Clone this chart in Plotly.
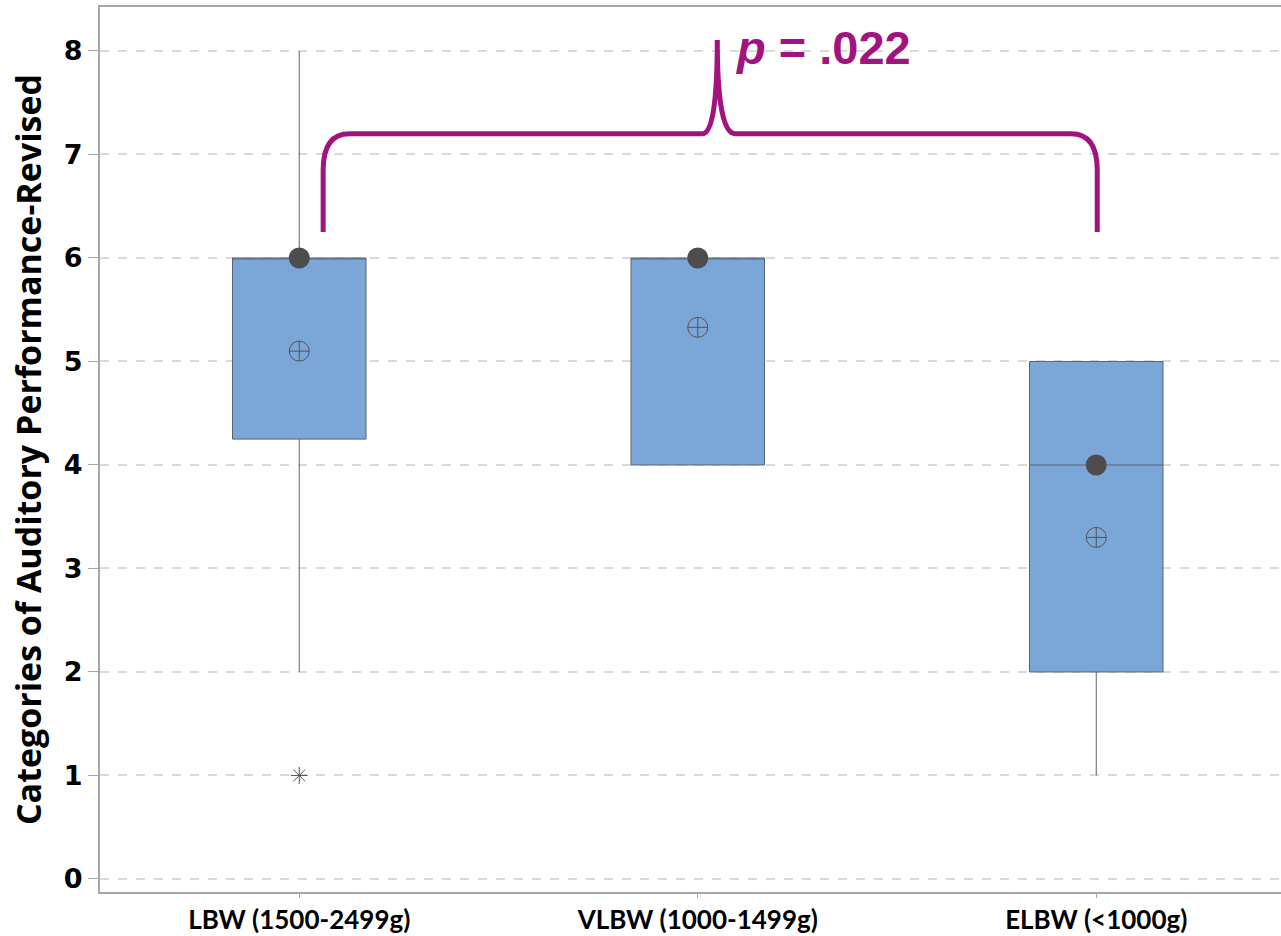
import plotly.graph_objects as go

# ---- data ----
categories = ["LBW (1500-2499g)", "VLBW (1000-1499g)", "ELBW (<1000g)"]
positions = [0, 1, 2]
q1 = [4.25, 4.0, 2.0]
median = [6.0, 6.0, 4.0]
q3 = [6.0, 6.0, 5.0]
lower_fence = [2.0, 4.0, 1.0]
upper_fence = [8.0, 6.0, 5.0]
means = [5.1, 5.33, 3.3]
outlier_x = [0]
outlier_y = [1.0]
y_ticks = [0, 1, 2, 3, 4, 5, 6, 7, 8]
p_label = "<i>p</i> = .022"

# bracket (data coordinates)
br_left_x, br_right_x = 0.06, 2.0025
br_bottom_y, br_top_y = 6.25, 7.2
br_peak_x, br_peak_y = 1.049, 8.106

MAGENTA = "#a2137f"
GRAY = "#555555"

fig = go.Figure()

fig.add_trace(go.Box(
    x=positions, q1=q1, median=median, q3=q3,
    lowerfence=lower_fence, upperfence=upper_fence,
    width=0.335, whiskerwidth=0,
    fillcolor="#7ba6d8", line=dict(color="#5b6470", width=1),
    boxpoints=False, hoverinfo="skip", showlegend=False,
))

fig.add_trace(go.Scatter(
    x=positions, y=median, mode="markers",
    marker=dict(symbol="circle", size=21, color="#4d4d4d"),
    showlegend=False, hoverinfo="skip",
))
fig.add_trace(go.Scatter(
    x=positions, y=means, mode="markers",
    marker=dict(symbol="circle-cross-open", size=20, color=GRAY, line=dict(width=1, color=GRAY)),
    showlegend=False, hoverinfo="skip",
))
fig.add_trace(go.Scatter(
    x=outlier_x, y=outlier_y, mode="markers",
    marker=dict(symbol="asterisk-open", size=14, color=GRAY, line=dict(width=1, color=GRAY)),
    showlegend=False, hoverinfo="skip",
))

dx = 0.066
cy = 0.35
path = (
    f"M {br_left_x},{br_bottom_y} L {br_left_x},{br_top_y - cy} "
    f"Q {br_left_x},{br_top_y} {br_left_x + dx},{br_top_y} "
    f"L {br_peak_x - 0.038},{br_top_y} "
    f"Q {br_peak_x},{br_top_y} {br_peak_x},{br_peak_y} "
    f"Q {br_peak_x},{br_top_y} {br_peak_x + 0.045},{br_top_y} "
    f"L {br_right_x - dx},{br_top_y} "
    f"Q {br_right_x},{br_top_y} {br_right_x},{br_top_y - cy} "
    f"L {br_right_x},{br_bottom_y}"
)
fig.add_shape(type="path", path=path, xref="x", yref="y",
              line=dict(color=MAGENTA, width=5))

fig.add_annotation(
    x=br_peak_x + 0.04, y=8.03, xref="x", yref="y",
    text=f"<b>{p_label}</b>", showarrow=False,
    xanchor="left", yanchor="middle",
    font=dict(family="Liberation Sans, Arial, sans-serif", size=47, color=MAGENTA),
)

fig.update_layout(
    width=1281, height=936,
    margin=dict(l=100, r=0, t=7, b=44),
    plot_bgcolor="white", paper_bgcolor="white",
    showlegend=False,
)
fig.update_xaxes(
    range=[-0.5, 2.4636], automargin=False,
    tickvals=positions, ticktext=[f"<b>{c}</b>" for c in categories],
    tickfont=dict(family="Lato, sans-serif", size=26, color="black"),
    showline=True, linecolor="#a6a6a6", linewidth=2, mirror=True,
    ticks="outside", ticklen=4, tickcolor="#a6a6a6", tickwidth=1,
    showgrid=False, zeroline=False,
)
fig.update_yaxes(
    range=[-0.126, 8.425], automargin=False,
    tickvals=y_ticks, ticktext=[f"<b>{t}</b>" for t in y_ticks],
    tickfont=dict(family="DejaVu Sans, sans-serif", size=27, color="black"),
    title=dict(text="<b>Categories of Auditory Performance-Revised</b>",
               font=dict(family="Open Sans, sans-serif", size=34, color="black"),
               standoff=12),
    showline=True, linecolor="#a6a6a6", linewidth=2,
    ticks="outside", ticklen=10, tickcolor="#a6a6a6", tickwidth=1,
    showgrid=True, gridcolor="#d9d9d9", gridwidth=2, griddash="dash",
    zeroline=False,
)

fig.write_html("out.html")
